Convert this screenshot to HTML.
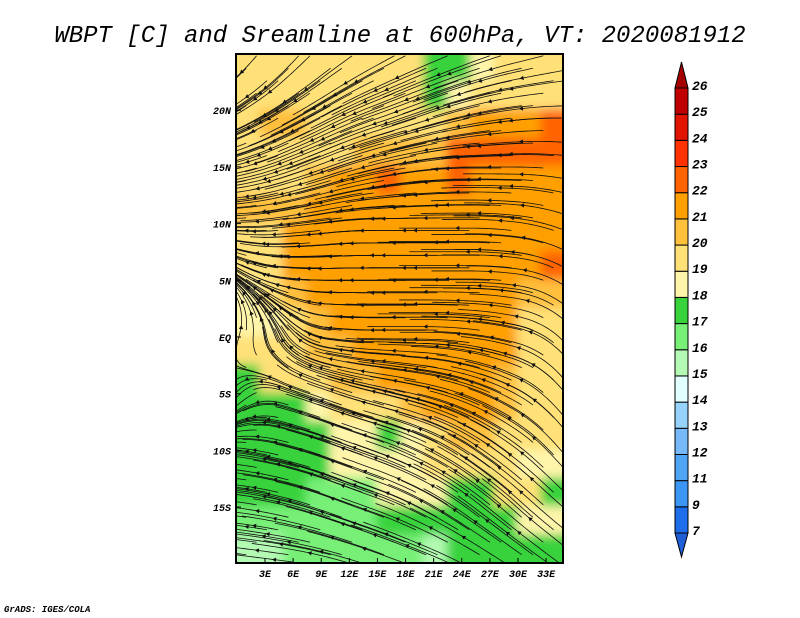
<!DOCTYPE html>
<html><head><meta charset="utf-8">
<style>
body{margin:0;background:#fff;width:800px;height:618px;overflow:hidden;font-family:"Liberation Mono",monospace}
svg{position:absolute;left:0;top:0}
</style></head>
<body>
<svg id="chart" width="800" height="618">
<defs>
<filter id="blur" x="-5%" y="-5%" width="110%" height="110%"><feGaussianBlur stdDeviation="5"/></filter>
<clipPath id="frameclip"><rect x="236" y="54" width="327" height="509"/></clipPath>
</defs>
<text x="400" y="42" text-anchor="middle" font-family="Liberation Mono, monospace" font-style="italic" font-size="24" fill="#000">WBPT [C] and Sreamline at 600hPa, VT: 2020081912</text>
<g id="field" clip-path="url(#frameclip)"><g id="cells" filter="url(#blur)"></g></g>
<g id="streams" clip-path="url(#frameclip)"></g>
<rect x="236" y="54" width="327" height="509" fill="none" stroke="#000" stroke-width="2"/>
<g id="axes" font-family="Liberation Mono, monospace" font-style="italic" font-weight="bold" font-size="10"></g>
<g id="legend" font-family="Liberation Mono, monospace" font-style="italic" font-weight="bold" font-size="13"></g>
<text x="4" y="612" font-family="Liberation Mono, monospace" font-style="italic" font-weight="bold" font-size="9">GrADS: IGES/COLA</text>
</svg>
<script>
const lonCenters=[1.25,3.75,6.25,8.75,11.25,13.75,16.25,18.75,21.25,23.75,26.25,28.75,31.25,33.75];
const latCenters=[23.75,21.25,18.75,16.25,13.75,11.25,8.75,6.25,3.75,1.25,-1.25,-3.75,-6.25,-8.75,-11.25,-13.75,-16.25,-18.75];
const wbpt=[
[19.5,19.5,19.5,19.5,19.5,19.5,19.5,19.5,17.5,17.5,18.5,19.5,19.5,19.5],
[19.5,19.5,19.5,19.5,19.5,19.5,19.5,19.5,17.5,18.5,19.5,19.5,19.5,19.5],
[19.5,20.5,20.5,19.5,19.5,19.5,19.5,19.5,19.5,20.5,21.5,21.5,21.5,22.5],
[19.5,19,19,19.5,19.5,20,20.5,20.5,20.5,22.5,22.5,22.5,22.5,22.5],
[19.5,19.5,19.5,20.5,21,21.5,22.5,21.5,21.5,22.5,21.5,21.5,21.5,21.5],
[20.5,20.5,20.5,21.5,21.5,21.5,21.5,21.5,21.5,21.5,21.5,21.5,21.5,21.5],
[19.5,19.5,21.5,21.5,21.5,21.5,21.5,21.5,21.5,21.5,21.5,21.5,21.5,21],
[19,19,21,21.5,21.5,21.5,21.5,21.5,21.5,21.5,21.5,21.5,21.5,22.5],
[18.5,19.5,20.5,21.5,21.5,21.5,21.5,21.5,21.5,21.5,21.5,21.5,20.5,20.5],
[18.5,18.5,19.5,20.5,21,21.5,21.5,21.5,21.5,21.5,21.5,21.5,19.5,19.5],
[19.5,19.5,19.5,20,20.5,21,21.5,21.5,21.5,21.5,21.5,21.5,19.5,19.5],
[17.5,19.5,19.5,19.5,20,20.5,21,21.5,21.5,21.5,21.5,20.5,19.5,19.5],
[17.5,17.5,17.5,18.5,19.5,19.5,19.5,20.5,21,21,21,20.5,19.5,19.5],
[17.5,17.5,17.5,17.5,18.5,18.5,17.5,18.5,19.5,20.5,20,19.5,19.5,19.5],
[17.5,17.5,17.5,17.5,18.5,18.5,18.5,18.5,19.5,19.5,19.5,19.5,18.5,18.5],
[17.5,17.5,17.5,16.5,16.5,16.5,18.5,18.5,18.5,17.5,17.5,19,19,17.5],
[16.5,16.5,16.5,16.5,16.5,16.5,17.5,17.5,17,17.5,17.5,17.5,18.5,18.5],
[15.5,15.5,16.5,16.5,16.5,16.5,16.5,16.5,15,17.5,17.5,17.5,17.5,17.5]
];
const windU=[
[-0.6,-0.6,-0.7,-0.8,-0.8,-0.9,-0.9,-0.9],
[-0.8,-0.8,-0.9,-1,-1,-1,-1,-1],
[-1,-1,-1,-1,-1,-1,-1,-1],
[-1,-1,-1,-1,-1,-1,-1,-1],
[-0.6,-0.8,-1,-1,-1,-1,-1,-0.8],
[0.3,-0.4,-1,-1,-1,-1,-1,-0.6],
[-0.6,-0.8,-1,-1,-1,-1,-0.9,-0.6],
[-1,-1,-1,-1,-1,-0.9,-0.8,-0.6],
[-1,-1,-1,-1,-0.9,-0.8,-0.8,-0.7],
[-1,-1,-1,-1,-1,-0.9,-0.9,-0.8]];
const windV=[
[-0.6,-0.6,-0.5,-0.4,-0.3,-0.3,-0.2,-0.2],
[-0.4,-0.4,-0.4,-0.3,-0.3,-0.2,-0.1,0],
[-0.2,-0.3,-0.3,-0.2,-0.1,0,0,0.1],
[0,-0.1,-0.1,0,0,0,0.1,0.3],
[0.4,0.1,0,0,0,0,0.1,0.4],
[0.8,0.6,0.1,0,0,0.1,0.2,0.5],
[-0.6,0.2,0.3,0.2,0.2,0.3,0.4,0.6],
[0.1,0.2,0.3,0.3,0.4,0.5,0.5,0.6],
[0.1,0.2,0.3,0.3,0.4,0.5,0.6,0.5],
[0.1,0.1,0.2,0.3,0.3,0.4,0.5,0.5]];
const lonTicks=[3,6,9,12,15,18,21,24,27,30,33];
const latTicks=[20,15,10,5,0,-5,-10,-15];
const levels=[7,9,11,12,13,14,15,16,17,18,19,20,21,22,23,24,25,26];
const levelColors=['#1e6eeb','#3c96f5','#50a5f5','#78b9fa','#96d2fa','#e1ffff','#b4fab4','#78f078','#37d23c','#fff5aa','#ffe178','#ffc03c','#ffa000','#ff6400','#ff3200','#e11400','#c00000'];
const lowColor='#1e5fd8', highColor='#a50000';
const NS='http://www.w3.org/2000/svg';
const x=lon=>265+(lon-3)*9.37;
const y=lat=>337-lat*11.34;
function color(v){if(v<levels[0])return lowColor;if(v>=levels[levels.length-1])return highColor;for(let i=levels.length-2;i>=0;i--){if(v>=levels[i])return levelColors[i];}return levelColors[0];}
const cells=document.getElementById('cells');
for(let r=0;r<latCenters.length;r++)for(let c=0;c<lonCenters.length;c++){
 const rc=document.createElementNS(NS,'rect');
 const x0=x(lonCenters[c]-1.25)-1,y0=y(latCenters[r]+1.25)-1;
 rc.setAttribute('x',x0-(c==0?20:0));rc.setAttribute('y',y0-(r==0?20:0));
 rc.setAttribute('width',x(lonCenters[c]+1.25)-x0+2+(c==0||c==lonCenters.length-1?20:0));
 rc.setAttribute('height',y(latCenters[r]-1.25)-y0+2+(r==0||r==latCenters.length-1?20:0));
 rc.setAttribute('fill',color(wbpt[r][c]));
 
 
 cells.appendChild(rc);
}
function wind(lon,lat){
 let fc=Math.max(0,Math.min(6.999,lon/5)),fr=Math.max(0,Math.min(8.999,(25-lat)/5));
 const c=Math.floor(fc),r=Math.floor(fr),tx=fc-c,ty=fr-r;
 const b=(a)=>a[r][c]*(1-tx)*(1-ty)+a[r][c+1]*tx*(1-ty)+a[r+1][c]*(1-tx)*ty+a[r+1][c+1]*tx*ty;
 return [b(windU),b(windV)];
}
const streams=document.getElementById('streams');
let seedIdx=0;
for(let lat=24.8;lat>-20.5;lat-=1.1)for(let lon=1;lon<37;lon+=3.4){
 seedIdx++;
 const sl=lon+(seedIdx%3)*1.1;
 let p=[sl,lat],pts=[[x(p[0]),y(p[1])]];
 for(let i=0;i<30;i++){const w=wind(p[0],p[1]);const m=Math.hypot(w[0],w[1])||1;p=[p[0]+w[0]/m*0.4,p[1]+w[1]/m*0.4];pts.push([x(p[0]),y(p[1])]);if(p[0]<-1||p[0]>36||p[1]<-21||p[1]>26)break;}
 const pl=document.createElementNS(NS,'polyline');
 pl.setAttribute('points',pts.map(q=>q.join(',')).join(' '));
 pl.setAttribute('fill','none');pl.setAttribute('stroke','#111');pl.setAttribute('stroke-width','0.8');
 
 
 streams.appendChild(pl);
 if(pts.length>10){const k=Math.floor(pts.length/2),a=pts[k],b=pts[k+1];const ang=Math.atan2(b[1]-a[1],b[0]-a[0])*180/Math.PI;
  const ar=document.createElementNS(NS,'path');ar.setAttribute('d','M0,0 L-4,-2.2 L-4,2.2 Z');ar.setAttribute('fill','#111');
  ar.setAttribute('transform',`translate(${a[0]},${a[1]}) rotate(${ang})`);
  
  
  streams.appendChild(ar);}
}
const axes=document.getElementById('axes');
lonTicks.forEach(l=>{const t=document.createElementNS(NS,'text');t.setAttribute('x',x(l));t.setAttribute('y',577);t.setAttribute('text-anchor','middle');t.textContent=l+'E';
 
 
 axes.appendChild(t);
 const tk=document.createElementNS(NS,'line');tk.setAttribute('x1',x(l));tk.setAttribute('x2',x(l));tk.setAttribute('y1',563);tk.setAttribute('y2',558);tk.setAttribute('stroke','#000');axes.appendChild(tk);});
latTicks.forEach(l=>{const t=document.createElementNS(NS,'text');t.setAttribute('x',231);t.setAttribute('y',y(l)+4);t.setAttribute('text-anchor','end');t.textContent=l==0?'EQ':(l>0?l+'N':(-l)+'S');
 
 
 axes.appendChild(t);
 const tk=document.createElementNS(NS,'line');tk.setAttribute('x1',236);tk.setAttribute('x2',241);tk.setAttribute('y1',y(l));tk.setAttribute('y2',y(l));tk.setAttribute('stroke','#000');axes.appendChild(tk);});
const lg=document.getElementById('legend');
const barTop=88,barBot=533,nC=levelColors.length,bh=(barBot-barTop)/nC;
const up=document.createElementNS(NS,'path');up.setAttribute('d',`M675,${barTop} L681.5,62 L688,${barTop} Z`);up.setAttribute('fill',highColor);up.setAttribute('stroke','#000');


lg.appendChild(up);
const dn=document.createElementNS(NS,'path');dn.setAttribute('d',`M675,${barBot} L681.5,557 L688,${barBot} Z`);dn.setAttribute('fill',lowColor);dn.setAttribute('stroke','#000');


lg.appendChild(dn);
for(let i=0;i<nC;i++){
 const rc=document.createElementNS(NS,'rect');const yy=barBot-(i+1)*bh;
 rc.setAttribute('x',675);rc.setAttribute('y',yy);rc.setAttribute('width',13);rc.setAttribute('height',bh);
 rc.setAttribute('fill',levelColors[i]);rc.setAttribute('stroke','#000');rc.setAttribute('stroke-width','1');
 
 
 lg.appendChild(rc);
}
levels.forEach((lv,i)=>{const t=document.createElementNS(NS,'text');t.setAttribute('x',692);t.setAttribute('y',barBot-i*bh+2);t.textContent=lv;
 
 
 lg.appendChild(t);});
</script>
</body></html>
